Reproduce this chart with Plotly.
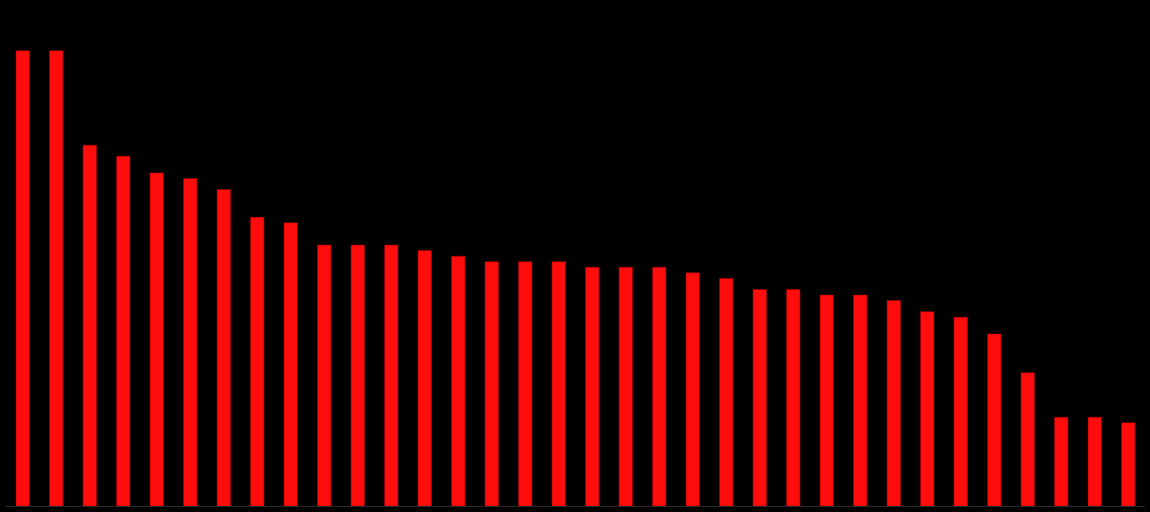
import plotly.graph_objects as go

categories = ["C01", "C02", "C03", "C04", "C05", "C06", "C07", "C08", "C09", "C10",
              "C11", "C12", "C13", "C14", "C15", "C16", "C17", "C18", "C19", "C20",
              "C21", "C22", "C23", "C24", "C25", "C26", "C27", "C28", "C29", "C30",
              "C31", "C32", "C33", "C34"]
values = [82, 82, 65, 63, 60, 59, 57, 52, 51, 47,
          47, 47, 46, 45, 44, 44, 44, 43, 43, 43,
          42, 41, 39, 39, 38, 38, 37, 35, 34, 31,
          24, 16, 16, 15]

fig = go.Figure(go.Bar(
    x=categories, y=values,
    marker=dict(color="#ff0d0d", line=dict(color="#b00000", width=0.5)),
    hoverinfo="x+y",
))

fig.update_layout(
    width=1150, height=512,
    paper_bgcolor="black", plot_bgcolor="black",
    margin=dict(l=6, r=5, t=28, b=6),
    bargap=0.6,
    showlegend=False,
    xaxis=dict(showticklabels=False, showgrid=False, zeroline=False,
               showline=True, linecolor="#2a2a2a", linewidth=1, ticks=""),
    yaxis=dict(showticklabels=False, showgrid=False, zeroline=False,
               range=[0, 86.1], showline=False),
)

fig.write_html(
    "out.html",
    config={"displayModeBar": False},
    post_script="document.body.style.margin='0';document.body.style.background='black';document.body.style.overflow='hidden';",
)
